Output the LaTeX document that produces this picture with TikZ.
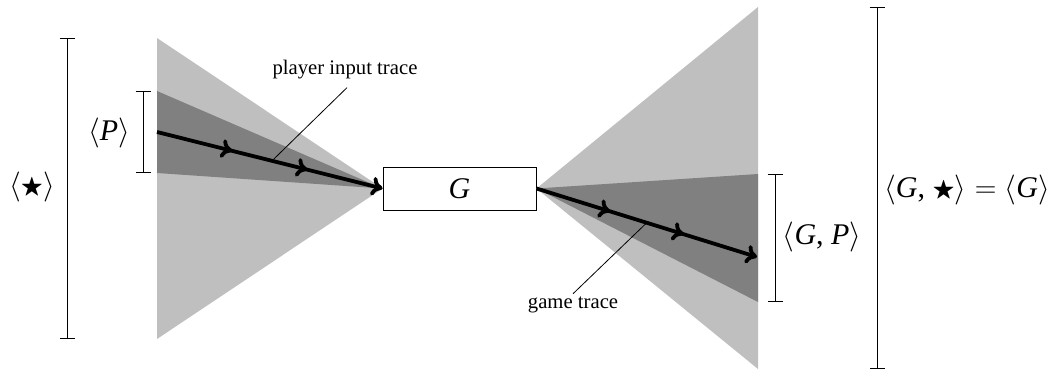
\documentclass[tikz,border=0pt]{standalone}
\usepackage{fix-cm}
\usepackage{amssymb}
\usepackage{fontspec}
\setmainfont{Liberation Serif}
\usetikzlibrary{arrows.meta,decorations.markings,calc}
\newcommand\mvar[1]{\textit{#1}}
\newcommand\mstar{\raisebox{1.5pt}{\scalebox{0.78}{$\bigstar$}}}
\tikzset{
  light/.style={fill=black!25,draw=none},
  dark/.style={fill=black!50,draw=none},
  tracetip/.tip={Computer Modern Rightarrow[length=11pt,width=19pt]},
  trace/.style={line width=3.8pt,-tracetip,
    postaction={decorate},
    decoration={markings,
      mark=at position 0.3333 with {\arrow{tracetip}},
      mark=at position 0.6667 with {\arrow{tracetip}}}},
  bracket/.style={line width=1pt,{Bar[width=15pt]}-{Bar[width=15pt]}},
  mathlbl/.style={font=\fontsize{30}{36}\selectfont,inner sep=0pt},
  smalllbl/.style={font=\fontsize{20.7}{25}\selectfont,inner sep=3pt},
  leader/.style={line width=0.8pt},
  gbox/.style={draw,line width=1pt,fill=white,minimum width=153pt,minimum height=43pt,inner sep=0pt,font=\fontsize{30}{36}\selectfont}
}
\begin{document}
\begin{tikzpicture}[x=1pt,y=-1pt]
\useasboundingbox (0,0) rectangle (1063,373);
\node[gbox] (G) at (459.5,188.5) {\mvar{G}};
% left fan
\coordinate (lt) at (157,38);
\coordinate (lb) at (157,339);
\coordinate (lpt) at (157,91);
\coordinate (lpb) at (157,173);
\fill[light] (G.west) -- (lt) -- (lb) -- cycle;
\fill[dark] (G.west) -- (lpt) -- (lpb) -- cycle;
% right fan
\coordinate (rt) at (758,7);
\coordinate (rb) at (758,369);
\coordinate (rpt) at (758,174);
\coordinate (rpb) at (758,302);
\fill[light] (G.east) -- (rt) -- (rb) -- cycle;
\fill[dark] (G.east) -- (rpt) -- (rpb) -- cycle;
% traces
\coordinate (ls) at (157,132);
\coordinate (re) at (757,257);
\draw[trace] (ls) -- (G.west);
\draw[trace] (G.east) -- (re);
% brackets
\coordinate (b1t) at (67,38);
\coordinate (b1b) at (67,339);
\coordinate (b2t) at (143,91);
\coordinate (b2b) at (143,173);
\coordinate (b3t) at (775,174);
\coordinate (b3b) at (775,302);
\coordinate (b4t) at (877,7);
\coordinate (b4b) at (877,369);
\draw[bracket] (b1t) -- (b1b);
\draw[bracket] (b2t) -- (b2b);
\draw[bracket] (b3t) -- (b3b);
\draw[bracket] (b4t) -- (b4b);
% bracket labels
\node[mathlbl] (star) at (32,187) {$\langle$\mstar$\rangle$};
\node[mathlbl] (P) at (109,133) {$\langle$\mvar{P}$\rangle$};
\node[mathlbl] (GP) at (822,237) {$\langle$\mvar{G}, \mvar{P}$\rangle$};
\node[mathlbl] (GS) at (967,190) {$\langle$\mvar{G}, \mstar$\rangle=\langle$\mvar{G}$\rangle$};
% trace labels
\node[smalllbl] (pit) at (345,70) {player input trace};
\node[smalllbl] (gt) at (573,305) {game trace};
\coordinate (pitp) at ($(ls)!0.51!(G.west)$);
\coordinate (gtp) at ($(G.east)!0.5!(re)$);
\draw[leader] ($(pit.south)+(2,5)$) -- (pitp);
\draw[leader] (gt.north) -- (gtp);
\end{tikzpicture}
\end{document}
